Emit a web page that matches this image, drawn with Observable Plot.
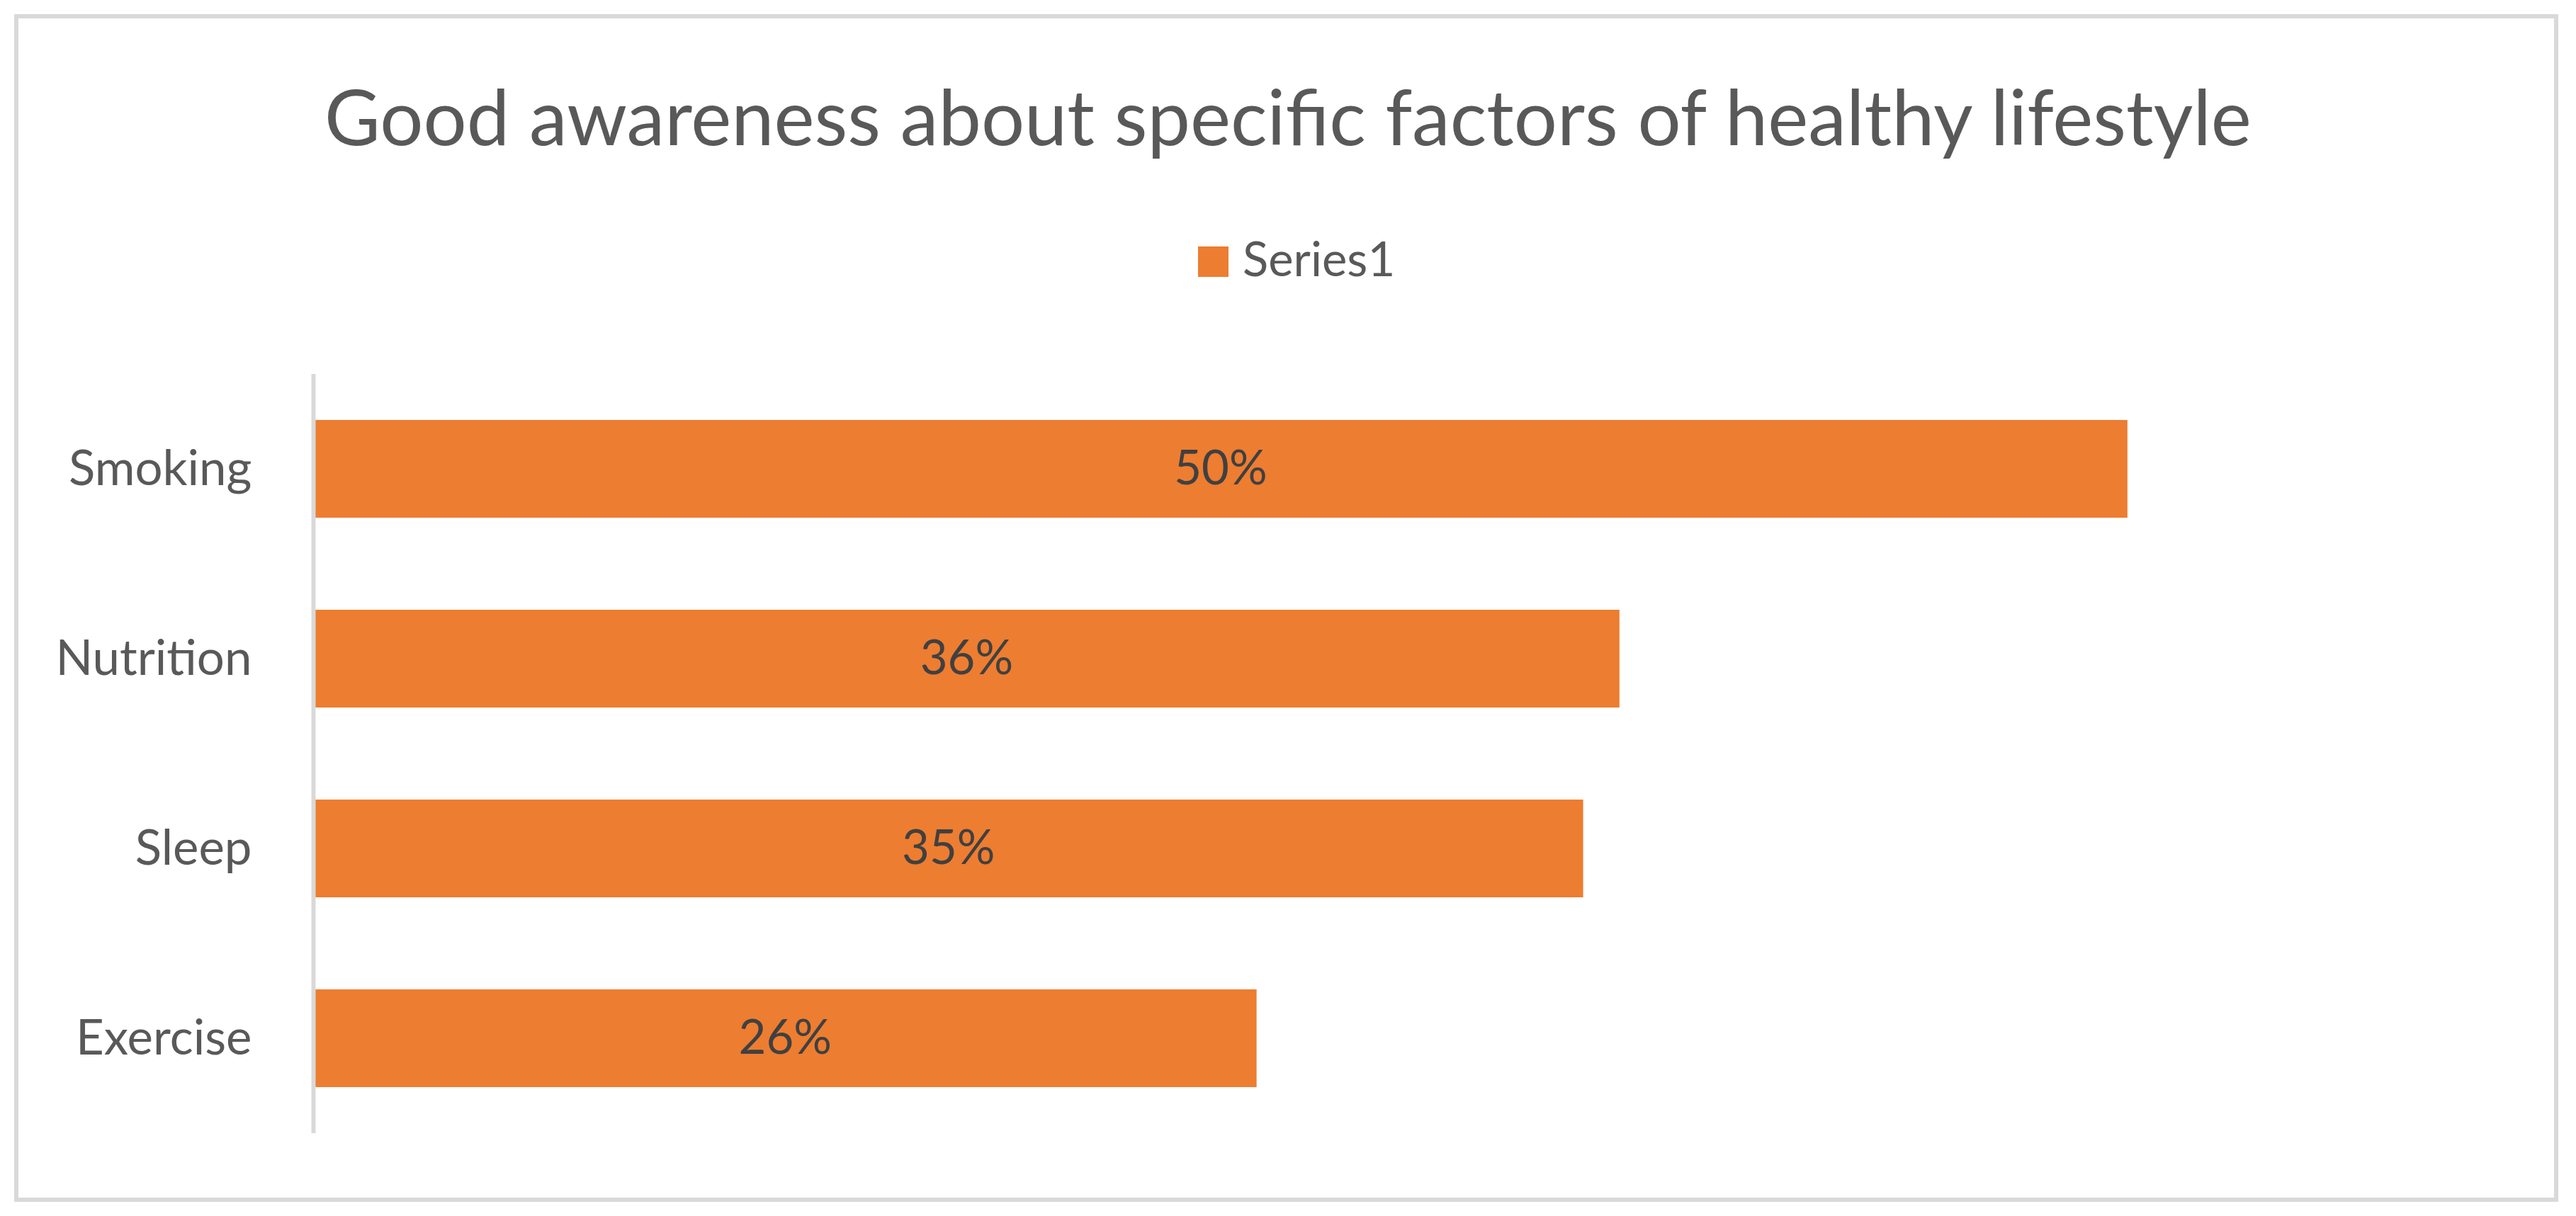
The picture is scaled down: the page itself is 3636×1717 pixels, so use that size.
<!DOCTYPE html>
<html>
<head>
<meta charset="utf-8">
<script src="https://cdn.jsdelivr.net/npm/d3@7"></script>
<script src="https://cdn.jsdelivr.net/npm/@observablehq/plot@0.6"></script>
<style>
  html, body { margin: 0; padding: 0; background: #fff; }
  body { width: 3636px; height: 1717px; position: relative; overflow: hidden; font-family: Lato, "Open Sans", sans-serif; }
  #frame { position: absolute; left: 20px; top: 20px; width: 3591px; height: 1677px; border: 6px solid #d9d9d9; box-sizing: border-box; }
  #title { position: absolute; left: 0; top: 109px; width: 3636px; text-align: center; font-size: 108px; line-height: 1; color: #595959; white-space: nowrap; }
  #legend-swatch { position: absolute; left: 1691px; top: 348px; width: 43px; height: 43px; background: #ED7D31; }
  #legend-text { position: absolute; left: 1754px; top: 331px; font-size: 67px; line-height: 1; color: #595959; white-space: nowrap; }
  #chart { position: absolute; left: 0; top: 430px; }
</style>
</head>
<body>
<div id="frame"></div>
<div id="title">Good awareness about specific factors of healthy lifestyle</div>
<div id="legend-swatch"></div>
<div id="legend-text">Series1</div>
<div id="chart"></div>
<script>
const categories = ["Smoking", "Nutrition", "Sleep", "Exercise"];
const values = [0.50, 0.36, 0.35, 0.26];
const seriesName = "Series1";

const data = categories.map((c, i) => ({category: c, value: values[i]}));
const fmt = d3.format(".0%");

const chart = Plot.plot({
  width: 3636,
  height: 1240,
  marginTop: 98,
  marginBottom: 70,
  marginLeft: 442,
  marginRight: 121,
  style: {fontFamily: "Lato, 'Open Sans', sans-serif", fontSize: "69px", color: "#595959", background: "transparent"},
  x: {domain: [0, 0.6], axis: null},
  y: {domain: categories, paddingInner: 0.485, paddingOuter: 0.2425, label: null},
  marks: [
    Plot.barX(data, {x: "value", y: "category", fill: "#ED7D31"}),
    Plot.ruleX([0], {stroke: "#d9d9d9", strokeWidth: 6}),
    Plot.axisY({tickSize: 0, tickPadding: 87, fontSize: 69, fill: "#595959", label: null}),
    Plot.text(data, {x: d => d.value / 2, y: "category", text: d => fmt(d.value), fill: "#404040", fontSize: 67})
  ]
});
document.getElementById("chart").appendChild(chart);
</script>
</body>
</html>
